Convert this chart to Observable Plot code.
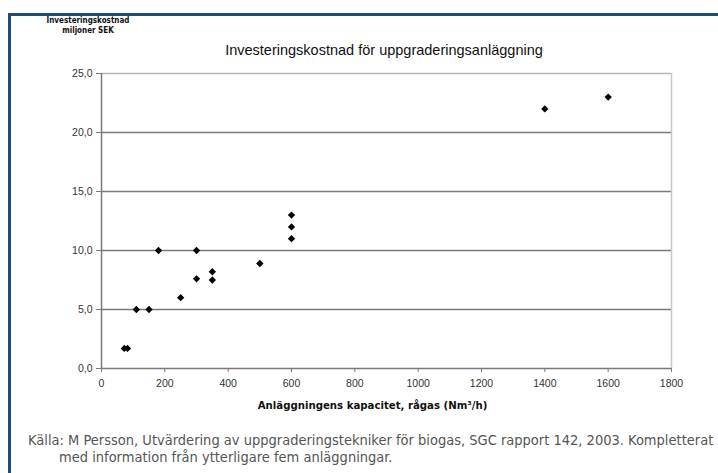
<!DOCTYPE html>
<html><head><meta charset="utf-8">
<script src="https://cdn.jsdelivr.net/npm/d3@7"></script>
<script src="https://cdn.jsdelivr.net/npm/@observablehq/plot@0.6"></script>
<style>
body{margin:0;background:#fff;}
#wrap{position:relative;width:718px;height:473px;overflow:hidden;background:#fff;font-family:"Liberation Sans",Arial,sans-serif;}
#frame{position:absolute;z-index:10;left:8px;top:13px;right:0;bottom:-10px;border-left:3px solid #1d497c;border-top:3px solid #1d497c;pointer-events:none;}
#head{position:relative;height:60px;}
#ylab{position:absolute;left:38px;top:16px;width:100px;text-align:center;font-weight:bold;font-size:8px;line-height:10px;font-family:"DejaVu Sans Condensed","Liberation Sans Narrow",sans-serif;color:#111;}
#title{position:absolute;left:134px;width:500px;top:42px;text-align:center;font-size:14.5px;color:#111;white-space:nowrap;}
#chart{position:relative;height:360px;}
#chart svg{display:block;}
#cap{position:absolute;left:28px;top:432px;font-size:14.5px;line-height:17px;color:#555;white-space:nowrap;font-family:"DejaVu Sans Condensed","Liberation Sans Narrow",sans-serif;padding-left:31px;text-indent:-31px;}
</style>
</head><body>
<div id="wrap">
  <div id="frame"></div>
  <div id="head">
    <div id="ylab">Investeringskostnad<br>miljoner SEK</div>
    <div id="title">Investeringskostnad för uppgraderingsanläggning</div>
  </div>
  <div id="chart"></div>
  <div id="cap">Källa: M Persson, Utvärdering av uppgraderingstekniker för biogas, SGC rapport 142, 2003. Kompletterat<br>med information från ytterligare fem anläggningar.</div>
</div>
<script>
const capacity = [72, 82, 110, 150, 180, 250, 300, 300, 350, 350, 500, 600, 600, 600, 1400, 1600];
const cost =     [1.7, 1.7, 5.0, 5.0, 10.0, 6.0, 10.0, 7.6, 8.2, 7.5, 8.9, 13.0, 12.0, 11.0, 22.0, 23.0];
const xTicks = [0, 200, 400, 600, 800, 1000, 1200, 1400, 1600, 1800];
const yTicks = [0, 5, 10, 15, 20, 25];
const gridValues = [5, 10, 15, 20];
const xLabel = "Anläggningens kapacitet, rågas (Nm³/h)";

const data = capacity.map((c, i) => ({capacity: c, cost: cost[i]}));
const fmt = d => d.toFixed(1).replace(".", ",");

const chart = Plot.plot({
  width: 718,
  height: 360,
  marginLeft: 101,
  marginRight: 47,
  marginTop: 13,
  marginBottom: 52,
  style: {fontFamily: "'Liberation Sans', Arial, sans-serif", fontSize: "10.5px", color: "#333", background: "#fff"},
  x: {domain: [0, 1800]},
  y: {domain: [0, 25]},
  marks: [
    Plot.ruleY(gridValues, {stroke: "#7a7a7a", strokeWidth: 1.3}),
    Plot.ruleY([25], {stroke: "#b5b5b5", strokeWidth: 1.3}),
    Plot.ruleX([1800], {stroke: "#c8c8c8", strokeWidth: 1.5}),
    Plot.ruleX([0], {stroke: "#7a7a7a", strokeWidth: 1.5}),
    Plot.ruleY([0], {stroke: "#7a7a7a", strokeWidth: 1.5}),
    Plot.axisX({ticks: xTicks, tickFormat: d => String(d), tickSize: 4, tickPadding: 7, stroke: "#7a7a7a", label: null, fill: "#333"}),
    Plot.axisY({ticks: yTicks, tickFormat: fmt, tickSize: 5, tickPadding: 4, stroke: "#7a7a7a", label: null, fill: "#333"}),
    Plot.text([xLabel], {frameAnchor: "bottom", dx: -14, dy: 40, text: d => d, fontWeight: "bold", fontSize: 11.3, fill: "#111", fontFamily: "'DejaVu Sans Condensed', sans-serif"}),
    Plot.dot(data, {x: "capacity", y: "cost", symbol: "diamond2", r: 3.3, fill: "#000", stroke: "none"})
  ]
});
document.getElementById("chart").appendChild(chart);
</script>
</body></html>
